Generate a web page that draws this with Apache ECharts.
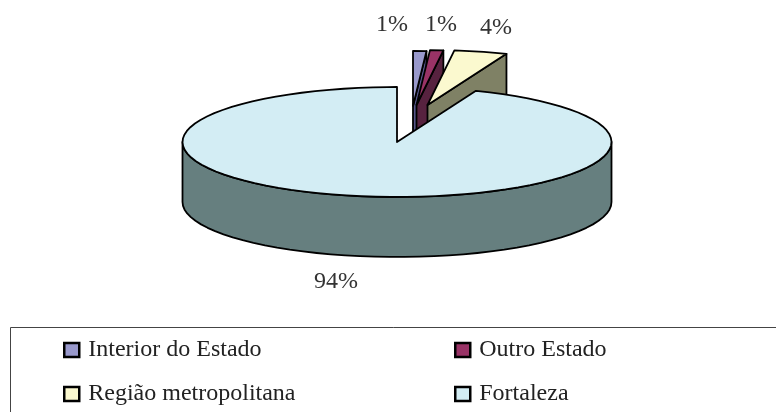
<!DOCTYPE html>
<html><head><meta charset="utf-8">
<script src="https://cdn.jsdelivr.net/npm/echarts@6/dist/echarts.min.js"></script>
<style>html,body{margin:0;padding:0;background:#fff}#c{width:776px;height:412px}</style>
</head><body><div id="c"></div>
<script>
const categories = ['Interior do Estado', 'Outro Estado', 'Região metropolitana', 'Fortaleza'];
const values = [1, 1, 4, 94];

const topColors = ['#9999cc', '#993366', '#fbf9cf', '#d3edf4'];
const wallColors = ['#56568a', '#57223f', '#7f8165', '#667f7f'];
const explode = [[16, -36], [19.5, -37], [30.5, -37], [0, 0]];
const labelPos = [[392, 25], [441, 25], [496, 28], [336, 282]];
const CX = 397, CY = 142, RX = 214.5, RY = 55, DEPTH = 60, STROKE = 1.8;
const total = values.reduce((a, b) => a + b, 0);

function rim(cx, cy, deg) {
  const t = deg * Math.PI / 180;
  return [cx + RX * Math.sin(t), cy - RY * Math.cos(t)];
}
function arc(cx, cy, a, b) {
  const pts = [], step = 4;
  for (let d = a; d < b; d += step) pts.push(rim(cx, cy, d));
  pts.push(rim(cx, cy, b));
  return pts;
}
function poly(points, fill) {
  return { type: 'polygon', shape: { points },
    style: { fill, stroke: '#000', lineWidth: STROKE, lineJoin: 'round' } };
}
function renderSlice(i) {
  return function (params, api) {
    const v = api.value(0);
    let start = 0;
    for (let k = 0; k < i; k++) start += values[k];
    const a0 = start / total * 360, a1 = (start + v) / total * 360;
    const cx = CX + explode[i][0], cy = CY + explode[i][1];
    const children = [];
    if (a1 < 180) {
      const e = rim(cx, cy, a1);
      children.push(poly([[cx, cy], e, [e[0], e[1] + DEPTH], [cx, cy + DEPTH]], wallColors[i]));
    }
    const w0 = Math.max(a0, 90), w1 = Math.min(a1, 270);
    if (w1 > w0) {
      const up = arc(cx, cy, w0, w1);
      const down = up.map(p => [p[0], p[1] + DEPTH]).reverse();
      children.push(poly(up.concat(down), wallColors[i]));
    }
    children.push(poly([[cx, cy]].concat(arc(cx, cy, a0, a1)), topColors[i]));
    children.push({ type: 'text', z2: 50, style: {
      x: labelPos[i][0], y: labelPos[i][1], text: v + '%', fill: '#333',
      font: '24px "Liberation Serif"', align: 'center', verticalAlign: 'middle' } });
    return { type: 'group', children };
  };
}
function legendAt(names, left) {
  return { left, top: 338, padding: 0, orient: 'vertical', itemGap: 20, itemWidth: 15, itemHeight: 14,
    icon: 'rect', data: names, selectedMode: false,
    itemStyle: { borderColor: '#000', borderWidth: 2.5 },
    textStyle: { fontFamily: 'Liberation Serif', fontSize: 24, color: '#222', padding: [0, 0, 0, 4] } };
}
const chart = echarts.init(document.getElementById('c'), null, { renderer: 'canvas' });
chart.setOption({
  animation: false,
  backgroundColor: '#fff',
  legend: [legendAt([categories[0], categories[2]], 63), legendAt([categories[1], categories[3]], 454)],
  graphic: [{ type: 'rect', silent: true, shape: { x: 10.5, y: 327.5, width: 790, height: 110 },
    style: { fill: 'none', stroke: '#444', lineWidth: 1 } }],
  series: categories.map((name, i) => ({
    type: 'custom', name, coordinateSystem: 'none', z: 2 + i,
    itemStyle: { color: topColors[i] },
    renderItem: renderSlice(i),
    data: [[values[i]]]
  }))
});
</script></body></html>
